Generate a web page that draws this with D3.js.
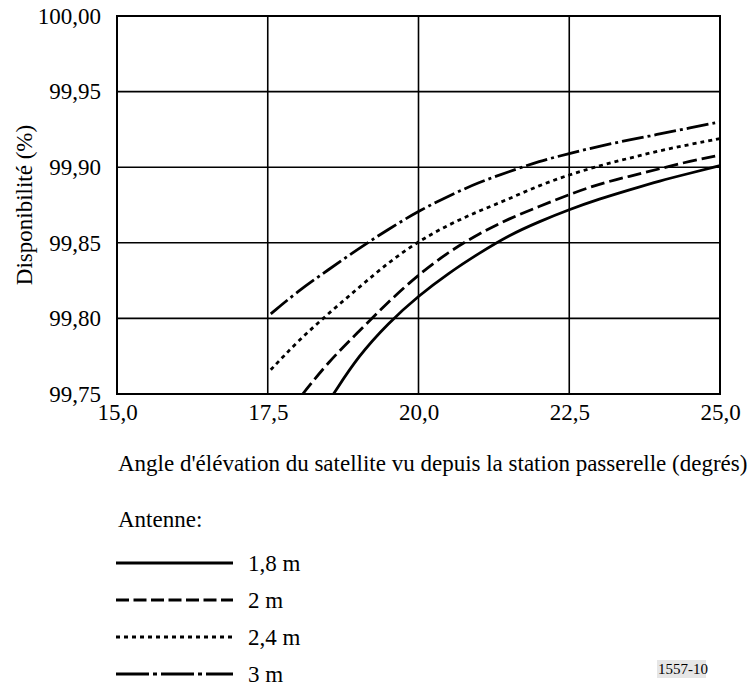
<!DOCTYPE html>
<html>
<head>
<meta charset="utf-8">
<script src="https://cdn.jsdelivr.net/npm/d3@7"></script>
<style>
  body { margin: 0; background: #fff; }
  svg text { fill: #000; }
</style>
</head>
<body>
<div id="main"></div>
<script>

// elevation angle (degrees) and availability (%) for each antenna size
var angles18 = [18.59, 19.0, 19.5, 20.0, 20.5, 21.0, 21.5, 22.0, 22.5, 23.0, 23.5, 24.0, 24.5, 25.0];
var avail18 = [99.750, 99.775, 99.797, 99.815, 99.830, 99.843, 99.855, 99.864, 99.872, 99.879, 99.885, 99.891, 99.896, 99.901];

var angles2 = [18.08, 18.5, 19.0, 19.5, 20.0, 20.5, 21.0, 21.5, 22.0, 22.5, 23.0, 23.5, 24.0, 24.5, 25.0];
var avail2 = [99.750, 99.771, 99.791, 99.811, 99.829, 99.844, 99.856, 99.866, 99.874, 99.882, 99.889, 99.894, 99.899, 99.904, 99.908];

var angles24 = [17.55, 18.0, 18.5, 19.0, 19.5, 20.0, 20.5, 21.0, 21.5, 22.0, 22.5, 23.0, 23.5, 24.0, 24.5, 25.0];
var avail24 = [99.766, 99.785, 99.803, 99.820, 99.837, 99.851, 99.862, 99.871, 99.879, 99.888, 99.895, 99.901, 99.906, 99.911, 99.915, 99.919];

var angles3 = [17.55, 18.0, 18.5, 19.0, 19.5, 20.0, 20.5, 21.0, 21.5, 22.0, 22.5, 23.0, 23.5, 24.0, 24.5, 25.0];
var avail3 = [99.803, 99.818, 99.832, 99.846, 99.859, 99.871, 99.881, 99.890, 99.897, 99.904, 99.909, 99.914, 99.918, 99.922, 99.926, 99.930];

var seriesNames = ["1,8 m", "2 m", "2,4 m", "3 m"];
var xTicks = [15, 17.5, 20, 22.5, 25];
var yTicks = [99.75, 99.80, 99.85, 99.90, 99.95, 100.00];

var dashes = ["none", "14,5", "4,4", "22,4,3,4"];
var legendDashes = ["none", "13,4.5", "4,4", "33,4,4,4"];
var serif = '"Liberation Serif", "Times New Roman", Times, serif';

var margin = { top: 16, right: 29, bottom: 296, left: 117 },
  width = 749 - margin.left - margin.right,
  height = 690 - margin.top - margin.bottom;

var svg = d3.select('#main')
  .append("svg")
  .attr('width', 749)
  .attr('height', 690)
  .append("g")
  .attr("transform", "translate(" + margin.left + "," + margin.top + ")");

var xScale = d3.scaleLinear().domain([15, 25]).range([0, width]);
var yScale = d3.scaleLinear().domain([99.75, 100]).range([height, 0]);

var fmt = d => d.toFixed(2).replace(".", ",");
var fmtX = d => d.toFixed(1).replace(".", ",");

// grid
svg.append("g")
  .selectAll("line.vgrid")
  .data(xTicks)
  .enter().append("line")
  .attr("x1", d => xScale(d)).attr("x2", d => xScale(d))
  .attr("y1", 0).attr("y2", height)
  .attr("stroke", "#000").attr("stroke-width", 1.6);

svg.append("g")
  .selectAll("line.hgrid")
  .data(yTicks)
  .enter().append("line")
  .attr("x1", 0).attr("x2", width)
  .attr("y1", d => yScale(d)).attr("y2", d => yScale(d))
  .attr("stroke", "#000").attr("stroke-width", 1.6);

// axes (labels only, grid already drawn)
var xAxis = svg.append("g")
  .attr("transform", "translate(0," + height + ")")
  .call(d3.axisBottom(xScale).tickValues(xTicks).tickFormat(fmtX).tickSize(0).tickPadding(10));
xAxis.select(".domain").remove();

var yAxis = svg.append("g")
  .call(d3.axisLeft(yScale).tickValues(yTicks).tickFormat(fmt).tickSize(0).tickPadding(16));
yAxis.select(".domain").remove();

// clip
svg.append("clipPath").attr("id", "clip")
  .append("rect").attr("width", width).attr("height", height);

var series = [
  angles18.map((a, i) => [a, avail18[i]]),
  angles2.map((a, i) => [a, avail2[i]]),
  angles24.map((a, i) => [a, avail24[i]]),
  angles3.map((a, i) => [a, avail3[i]])
];

var line = d3.line()
  .x(d => xScale(d[0]))
  .y(d => yScale(d[1]))
  .curve(d3.curveBasis);

svg.append("g").attr("clip-path", "url(#clip)")
  .selectAll("path")
  .data(series)
  .enter().append("path")
  .attr("d", line)
  .attr("fill", "none")
  .attr("stroke", "#000")
  .attr("stroke-width", 2.8)
  .attr("stroke-dasharray", (d, i) => dashes[i]);

// frame
svg.append("rect")
  .attr("width", width).attr("height", height)
  .attr("fill", "none").attr("stroke", "#000").attr("stroke-width", 2);

// axis titles
svg.append("text")
  .attr("class", "lbl")
  .attr("transform", "rotate(-90)")
  .attr("x", -height / 2)
  .attr("y", -85)
  .style("text-anchor", "middle")
  .text("Disponibilité (%)");

svg.append("text")
  .attr("class", "lbl")
  .attr("x", 1)
  .attr("y", height + 77)
  .text("Angle d'élévation du satellite vu depuis la station passerelle (degrés)");

// legend
svg.append("text")
  .attr("class", "lbl")
  .attr("x", 1)
  .attr("y", height + 133)
  .text("Antenne:");

var legend = svg.selectAll(".legend")
  .data(seriesNames)
  .enter().append("g")
  .attr("class", "legend")
  .attr("transform", (d, i) => "translate(0," + (height + 169 + i * 37) + ")");

legend.append("line")
  .attr("x1", -1).attr("x2", 116)
  .attr("y1", 0).attr("y2", 0)
  .attr("stroke", "#000").attr("stroke-width", 2.8)
  .attr("stroke-dasharray", (d, i) => legendDashes[i]);

legend.append("text")
  .attr("class", "lbl")
  .attr("x", 131)
  .attr("dy", "0.33em")
  .text(d => d);

svg.selectAll("g text, text.lbl")
  .attr("font-family", null).attr("font-size", null)
  .style("font-family", serif)
  .style("font-size", "23px");
xAxis.attr("font-family", null).attr("font-size", null);
yAxis.attr("font-family", null).attr("font-size", null);

// figure number
var fig = svg.append("g").attr("transform", "translate(" + (width - 63) + "," + (height + 279) + ")");
fig.append("rect").attr("x", 0).attr("y", -13).attr("width", 49).attr("height", 18).attr("fill", "#e6e6e6");
fig.append("text").attr("x", 1).attr("y", 1)
  .style("font-family", serif).style("font-size", "15px").text("1557-10");

</script>
</body>
</html>
